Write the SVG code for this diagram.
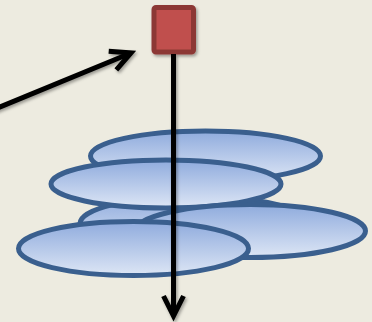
<svg xmlns="http://www.w3.org/2000/svg" width="372" height="322" viewBox="0 0 372 322">
  <defs>
    <linearGradient id="diskFill" x1="0" y1="0" x2="0" y2="1">
      <stop offset="0" stop-color="#8FABDD"/>
      <stop offset="1" stop-color="#DDE6F5"/>
    </linearGradient>
    <filter id="shadow" x="-20%" y="-20%" width="140%" height="140%">
      <feDropShadow dx="1.5" dy="2" stdDeviation="1.5" flood-color="#000" flood-opacity="0.35"/>
    </filter>
    <marker id="chevron" markerUnits="userSpaceOnUse" orient="auto" viewBox="-30 -20 40 40" refX="0" refY="0" markerWidth="40" markerHeight="40" overflow="visible">
      <path d="M-20,-10 L0,0 L-20,10" fill="none" stroke="#000" stroke-width="5" stroke-linejoin="miter"/>
    </marker>
    <style>
      .disk { fill: url(#diskFill); stroke: #3A5F8E; stroke-width: 5; }
      .conn { fill: none; stroke: #000; stroke-width: 5; marker-end: url(#chevron); }
      .block { fill: #C0504D; stroke: #8C3836; stroke-width: 5; }
    </style>
  </defs>

  <rect width="372" height="322" fill="#EDEBE0"/>

  <!-- stacked disks, back to front -->
  <g id="disk-back"><ellipse class="disk" cx="205.5" cy="156" rx="115" ry="25"/></g>
  <g id="disk-mid-left"><ellipse class="disk" cx="195" cy="223.5" rx="115" ry="27"/></g>
  <g id="disk-upper"><ellipse class="disk" cx="166" cy="184" rx="115" ry="24"/></g>
  <g id="disk-right"><ellipse class="disk" cx="250.5" cy="231" rx="115" ry="26.5"/></g>
  <g id="disk-front"><ellipse class="disk" cx="133.5" cy="248.5" rx="115" ry="27"/></g>

  <!-- source block -->
  <g id="block" filter="url(#shadow)">
    <rect class="block" x="154" y="7.5" width="39.5" height="44.5" rx="2"/>
  </g>

  <g id="connectors" filter="url(#shadow)">
    <line class="conn" x1="-10" y1="111" x2="131" y2="53"/>
    <line class="conn" x1="173.5" y1="54" x2="173.5" y2="316"/>
  </g>
</svg>
